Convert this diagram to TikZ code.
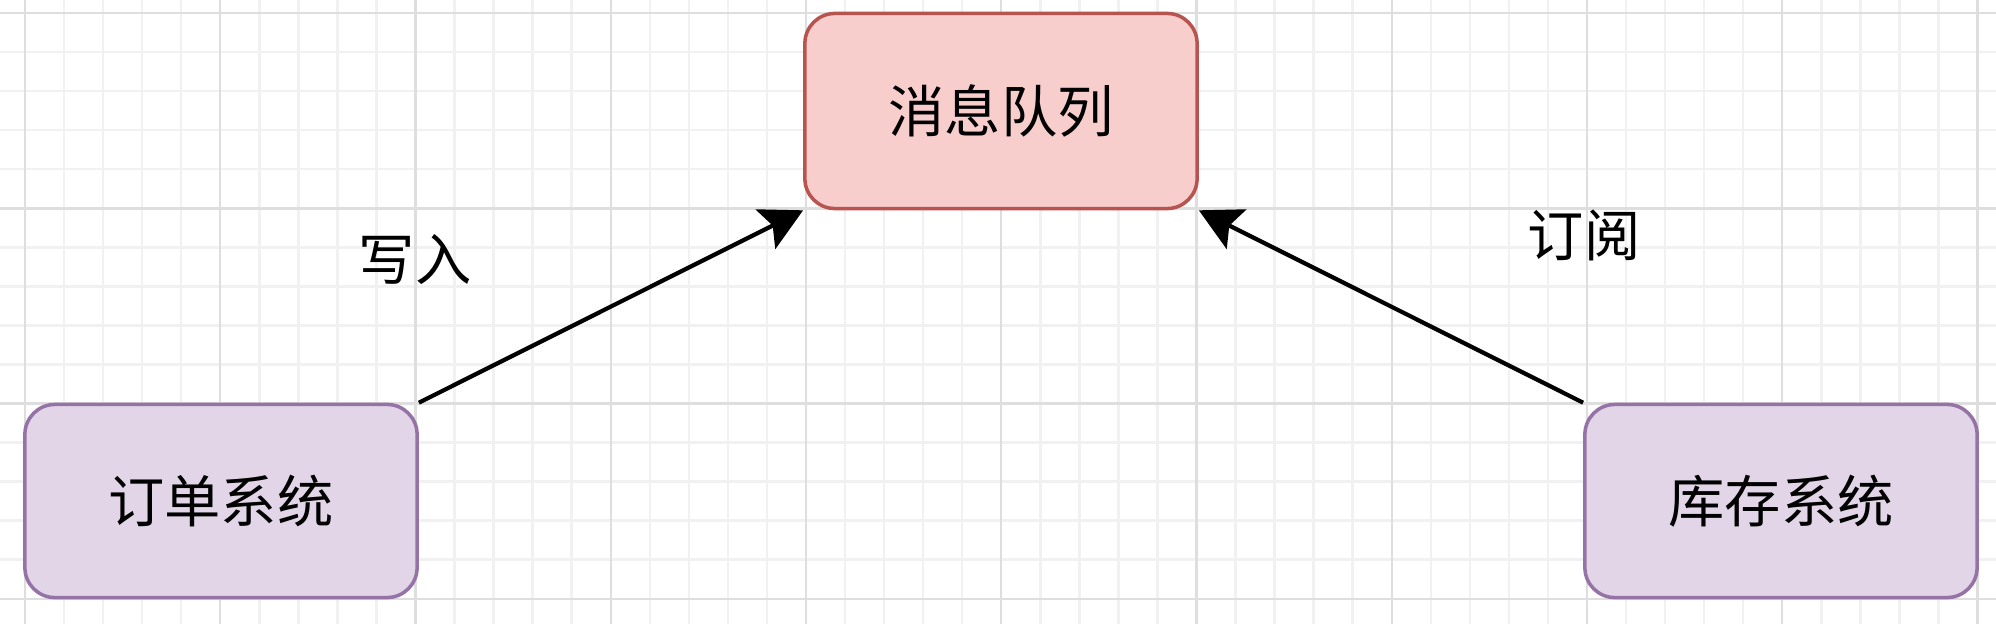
\documentclass[tikz,border=0pt]{standalone}
\usepackage{fontspec}
\newfontfamily\cjk{Noto Sans CJK SC}
\usepackage{tikz}
\usetikzlibrary{arrows.meta,positioning}
\usepackage{xcolor}
\definecolor{sysfill}{HTML}{E1D5E7}
\definecolor{sysdraw}{HTML}{9673A6}
\definecolor{mqfill}{HTML}{F8CECC}
\definecolor{mqdraw}{HTML}{B85450}
\definecolor{gridmajor}{HTML}{DEDEDE}
\definecolor{gridminor}{HTML}{F1F1F1}
\tikzset{
  sysbox/.style={draw=sysdraw, fill=sysfill, line width=1pt, rounded corners=0.3cm,
    minimum width=3.92cm, minimum height=1.93cm, inner sep=0pt},
  mqbox/.style={draw=mqdraw, fill=mqfill, line width=1pt, rounded corners=0.3cm,
    minimum width=3.92cm, minimum height=1.95cm, inner sep=0pt},
  flow/.style={-{Stealth[length=4.2mm, width=4.4mm, inset=0.8mm]}, line width=1.2pt, black},
}

\begin{document}
\begin{tikzpicture}[x=0.01cm, y=-0.01cm, font=\cjk\fontsize{16pt}{19pt}\selectfont]
\useasboundingbox (0,0) rectangle (1996,624);
\fill[white] (0,0) rectangle (1996,624);
% background grid
\foreach \k in {0,...,50}{
  \draw[gridminor, line width=0.7pt] ({25+39.05*\k},0) -- ({25+39.05*\k},624);
}
\foreach \k in {0,...,15}{
  \draw[gridminor, line width=0.7pt] (0,{13+39.05*\k}) -- (1996,{13+39.05*\k});
}
\foreach \k in {0,...,10}{
  \draw[gridmajor, line width=0.7pt] ({25+195.25*\k},0) -- ({25+195.25*\k},624);
}
\foreach \k in {0,...,3}{
  \draw[gridmajor, line width=0.7pt] (0,{13+195.3*\k}) -- (1996,{13+195.3*\k});
}
% boxes
\node[mqbox]  (queue) at (1001,111) {消息队列};
\node[sysbox] (order) at (221,501) {订单系统};
\node[sysbox] (stock) at (1781,501) {库存系统};
% labels
\node (write) at (415,260) {写入};
\node (subscribe) at (1584,235) {订阅};
% arrows
\draw[flow] (order.north east) -- (queue.south west);
\draw[flow] (stock.north west) -- (queue.south east);
\end{tikzpicture}
\end{document}
